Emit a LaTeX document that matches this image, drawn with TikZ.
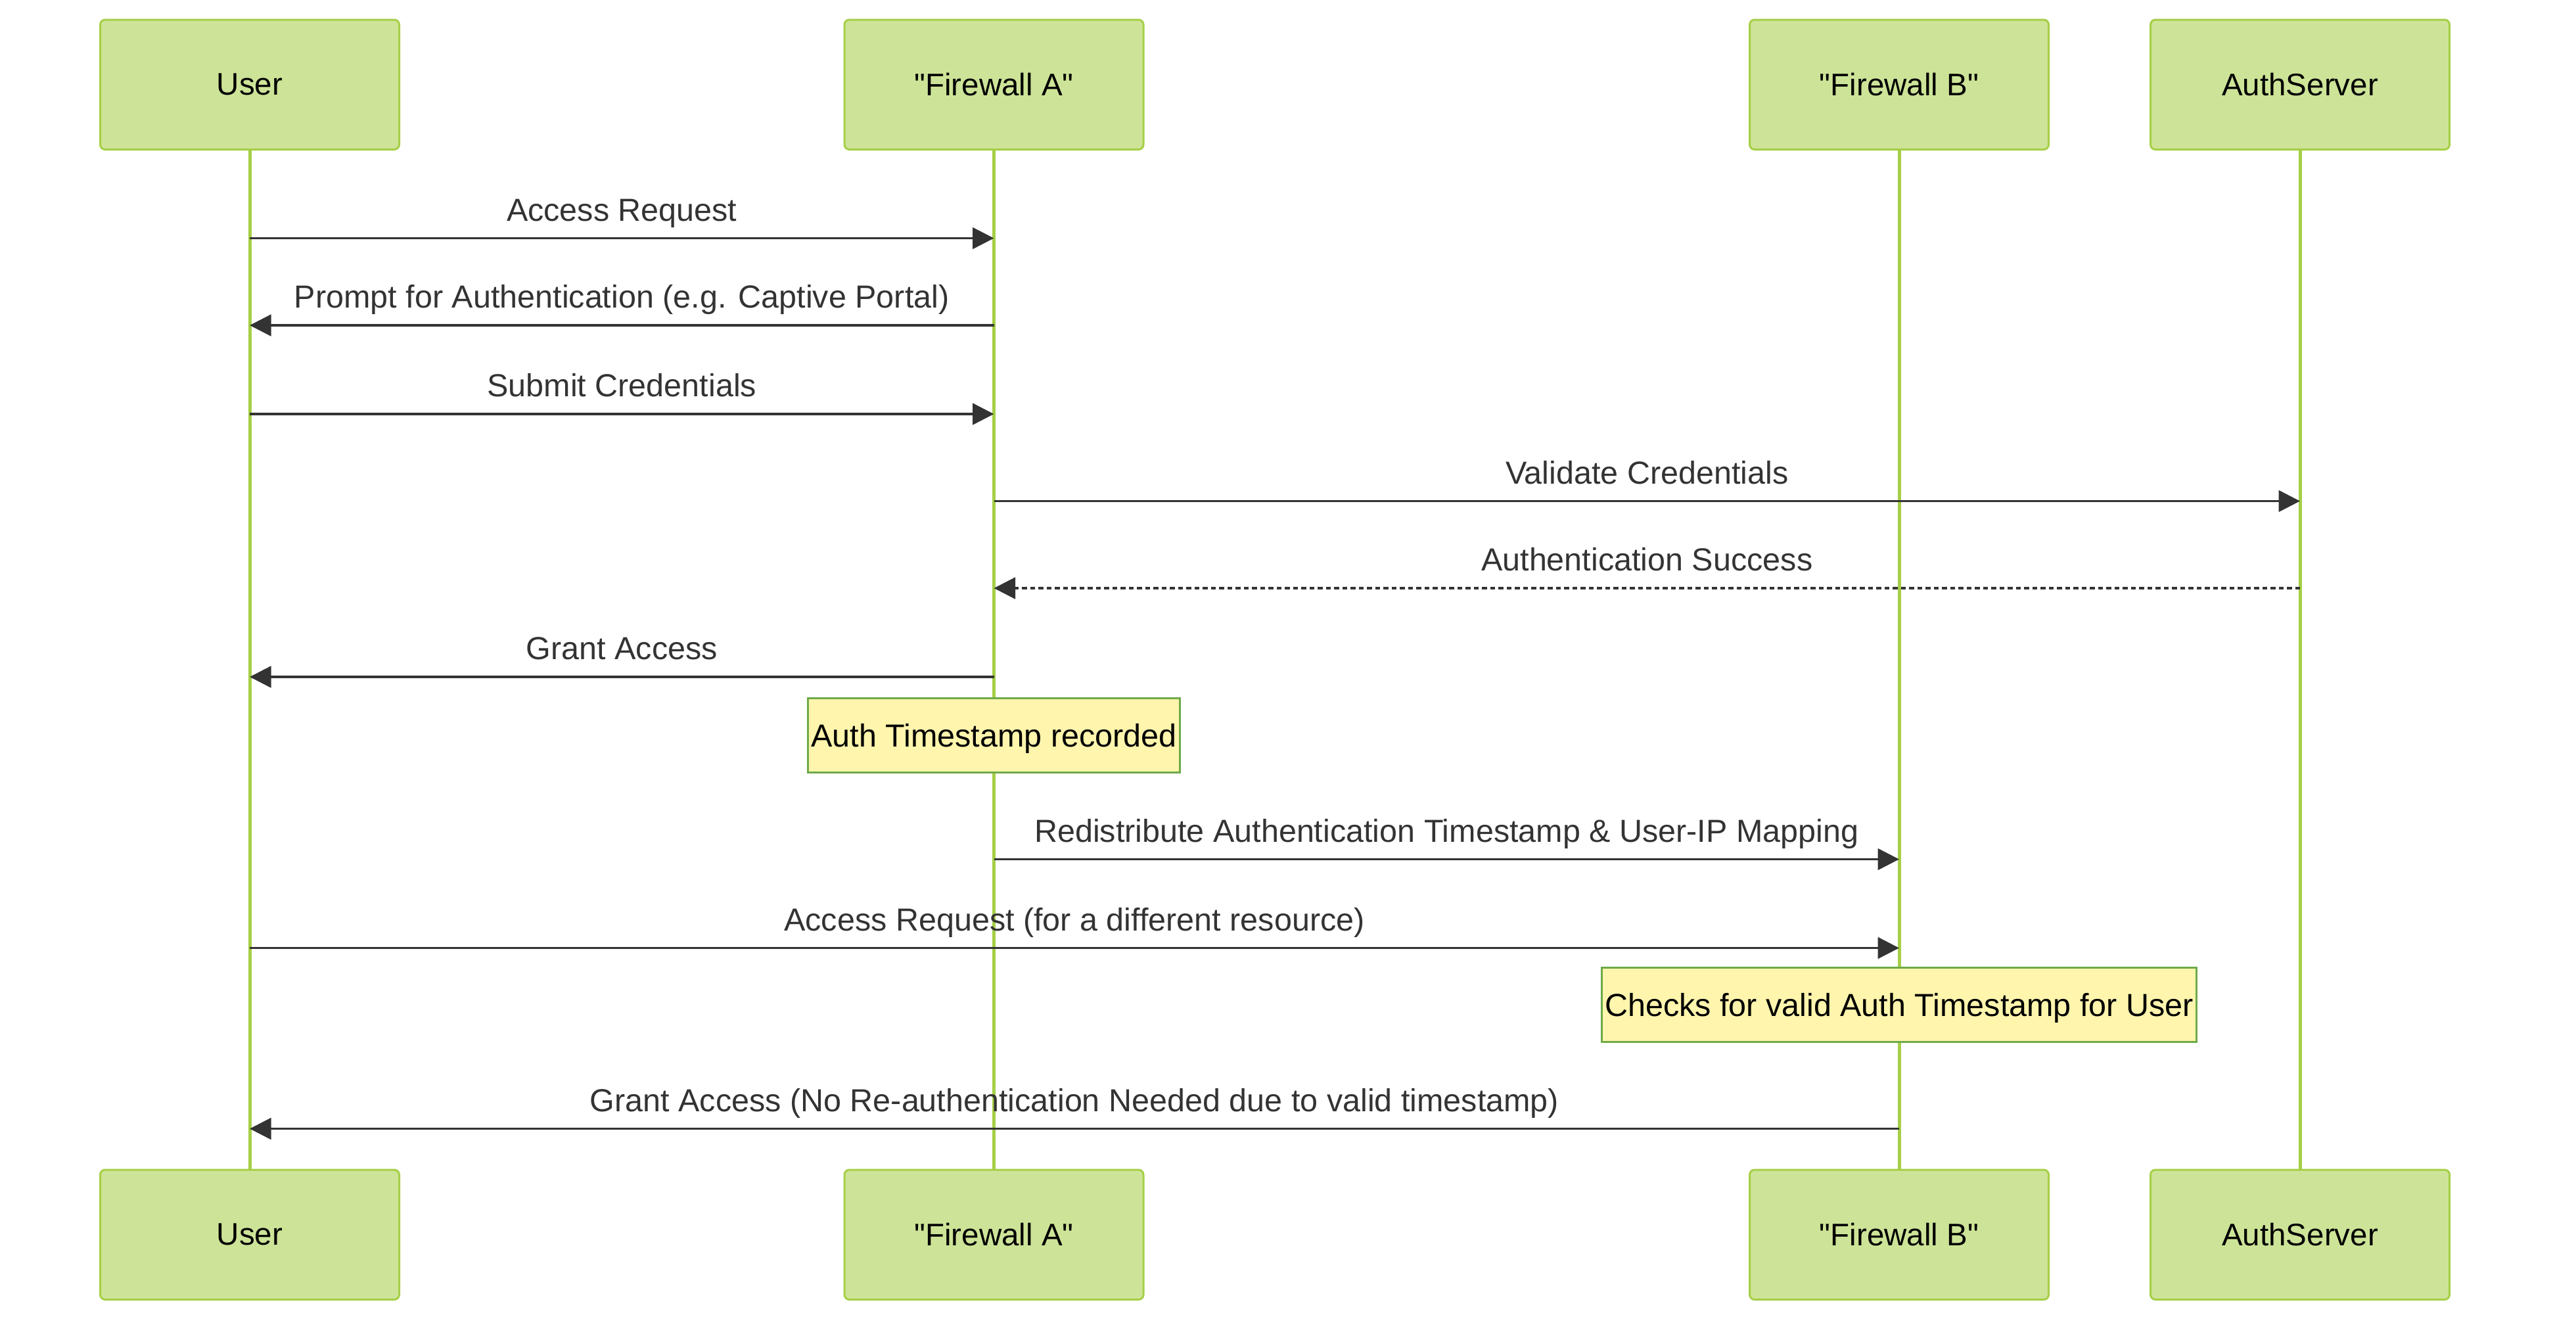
\documentclass[tikz,border=0pt]{standalone}
\usepackage{fontspec}
\setmainfont{Liberation Sans}[Ligatures=TeXOff]
\usetikzlibrary{arrows.meta}

\definecolor{actfill}{HTML}{CDE498}
\definecolor{actline}{HTML}{A6CF47}
\definecolor{notefill}{HTML}{FFF5AD}
\definecolor{noteline}{HTML}{6EAA49}
\definecolor{msgcol}{HTML}{333333}

\tikzset{
  actor/.style={draw=actline, fill=actfill, line width=1.2pt, rounded corners=3pt,
    minimum width=182pt, minimum height=79pt, font=\fontsize{19}{22}\selectfont},
  lifeline/.style={actline, line width=2pt},
  msg/.style={msgcol, line width=1.4pt, -{Triangle[length=13pt,width=13pt]}},
  reply/.style={msg, dash pattern=on 3pt off 2pt},
  msglabel/.style={text=msgcol, anchor=base, yshift=10.5pt, inner sep=0pt,
    font=\fontsize{19.4}{22}\selectfont},
  note/.style={draw=noteline, fill=notefill, line width=1.2pt, minimum height=45pt,
    inner xsep=2pt, text depth=0pt, font=\fontsize{19.4}{22}\selectfont}
}

\begin{document}
\begin{tikzpicture}[x=1pt,y=-1pt]
 \useasboundingbox (0,0) rectangle (1568,814);
 % participants, top and bottom, with their lifelines
 \foreach \n/\x/\t in
  {
    user/152/User, fwa/605/"Firewall A",
    fwb/1156/"Firewall B", auth/1400/AuthServer
  }
  {
    \node[actor] (\n) at (\x,51.5) {\t};
    \node[actor] (\n-b) at (\x,751.5) {\t};
    \draw[lifeline] (\n.south) -- (\n-b.north);
  }
 % messages
 \foreach \y/\a/\b/\s/\t in
  {
    145/user/fwa/msg/Access Request,
    198/fwa/user/msg/Prompt for Authentication (e.g. Captive Portal),
    252/user/fwa/msg/Submit Credentials,
    305/fwa/auth/msg/Validate Credentials,
    358/auth/fwa/reply/Authentication Success,
    412/fwa/user/msg/Grant Access,
    523/fwa/fwb/msg/Redistribute Authentication Timestamp \& User-IP Mapping,
    577/user/fwb/msg/Access Request (for a different resource),
    687/fwb/user/msg/Grant Access (No Re-authentication Needed due to valid timestamp)
  }
  {
    \draw[\s] (\a |- 0,\y) -- (\b |- 0,\y) node[midway, msglabel] {\t};
  }
 % notes
 \node[note] (n1) at (fwa |- 0,447.5) {Auth Timestamp recorded};
 \node[note] (n2) at (fwb |- 0,611.5) {Checks for valid Auth Timestamp for User};
\end{tikzpicture}
\end{document}
